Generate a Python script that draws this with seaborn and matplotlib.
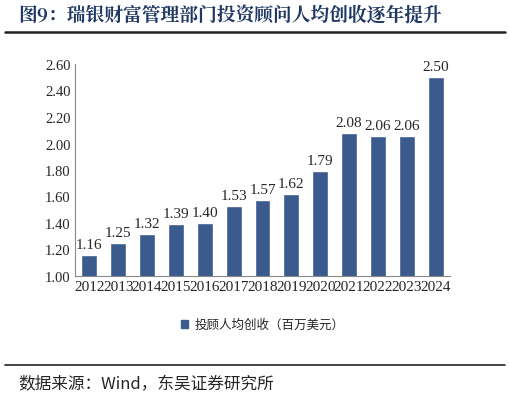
import matplotlib
matplotlib.use("Agg")
import matplotlib.pyplot as plt
import seaborn as sns
import pandas as pd
from matplotlib.lines import Line2D
from matplotlib.patches import Patch

years = [str(y) for y in range(2012, 2025)]
values = [1.16, 1.25, 1.32, 1.39, 1.40, 1.53, 1.57, 1.62, 1.79, 2.08, 2.06, 2.06, 2.50]
series_name = "投顾人均创收（百万美元）"
yticks = [1.00, 1.20, 1.40, 1.60, 1.80, 2.00, 2.20, 2.40, 2.60]

sns.set_style("white")
plt.rcParams['font.family'] = ['Noto Sans CJK SC', 'DejaVu Sans']
serif = ['Liberation Serif', 'Noto Sans CJK SC']

BAR = "#3B5A8E"
df = pd.DataFrame({"year": years, "value": values})

fig = plt.figure(figsize=(5.1, 4.02), dpi=100)
ax = fig.add_axes([75 / 510, 1 - 277 / 402, 375 / 510, 212 / 402])
sns.barplot(data=df, x="year", y="value", color=BAR, width=0.55, saturation=1, ax=ax)
ax.set_ylim(1.0, 2.6)
ax.set_yticks(yticks)
ax.set_yticklabels([f"{t:.2f}" for t in yticks], family=serif, fontsize=10.5)
ax.set_xticks(range(len(years)))
ax.set_xticklabels(years, family=serif, fontsize=11)
ax.set_xlabel("")
ax.set_ylabel("")
ax.tick_params(axis="both", length=0, pad=3)
for s in ["top", "right"]:
    ax.spines[s].set_visible(False)
for s in ["left", "bottom"]:
    ax.spines[s].set_color("#888888")
    ax.spines[s].set_linewidth(0.8)
for i, v in enumerate(values):
    ax.text(i, v + 0.03, f"{v:.2f}", ha="center", va="bottom", family=serif, fontsize=11)

ax.legend(handles=[Patch(color=BAR)], labels=[series_name], loc="center",
          bbox_to_anchor=(0.5, -0.23), frameon=False, fontsize=9,
          handlelength=0.6, handleheight=0.6, handletextpad=0.5)

fig.text(0.035, 1 - 17 / 402, "图9：瑞银财富管理部门投资顾问人均创收逐年提升",
         fontsize=13.5, fontweight="bold", color="#1F3864", va="center",
         family=['Noto Serif CJK SC', 'Noto Sans CJK SC', 'DejaVu Sans'])
fig.add_artist(Line2D([0.01, 0.99], [1 - 33 / 402] * 2, color="#222222", lw=1.8))
fig.add_artist(Line2D([0.01, 0.99], [1 - 366 / 402] * 2, color="#222222", lw=1.2))
fig.text(0.035, 1 - 385 / 402, "数据来源：Wind，东吴证券研究所", fontsize=12, va="center",
         family=['Noto Sans CJK SC', 'DejaVu Sans'])

fig.savefig("out.png", dpi=100)
